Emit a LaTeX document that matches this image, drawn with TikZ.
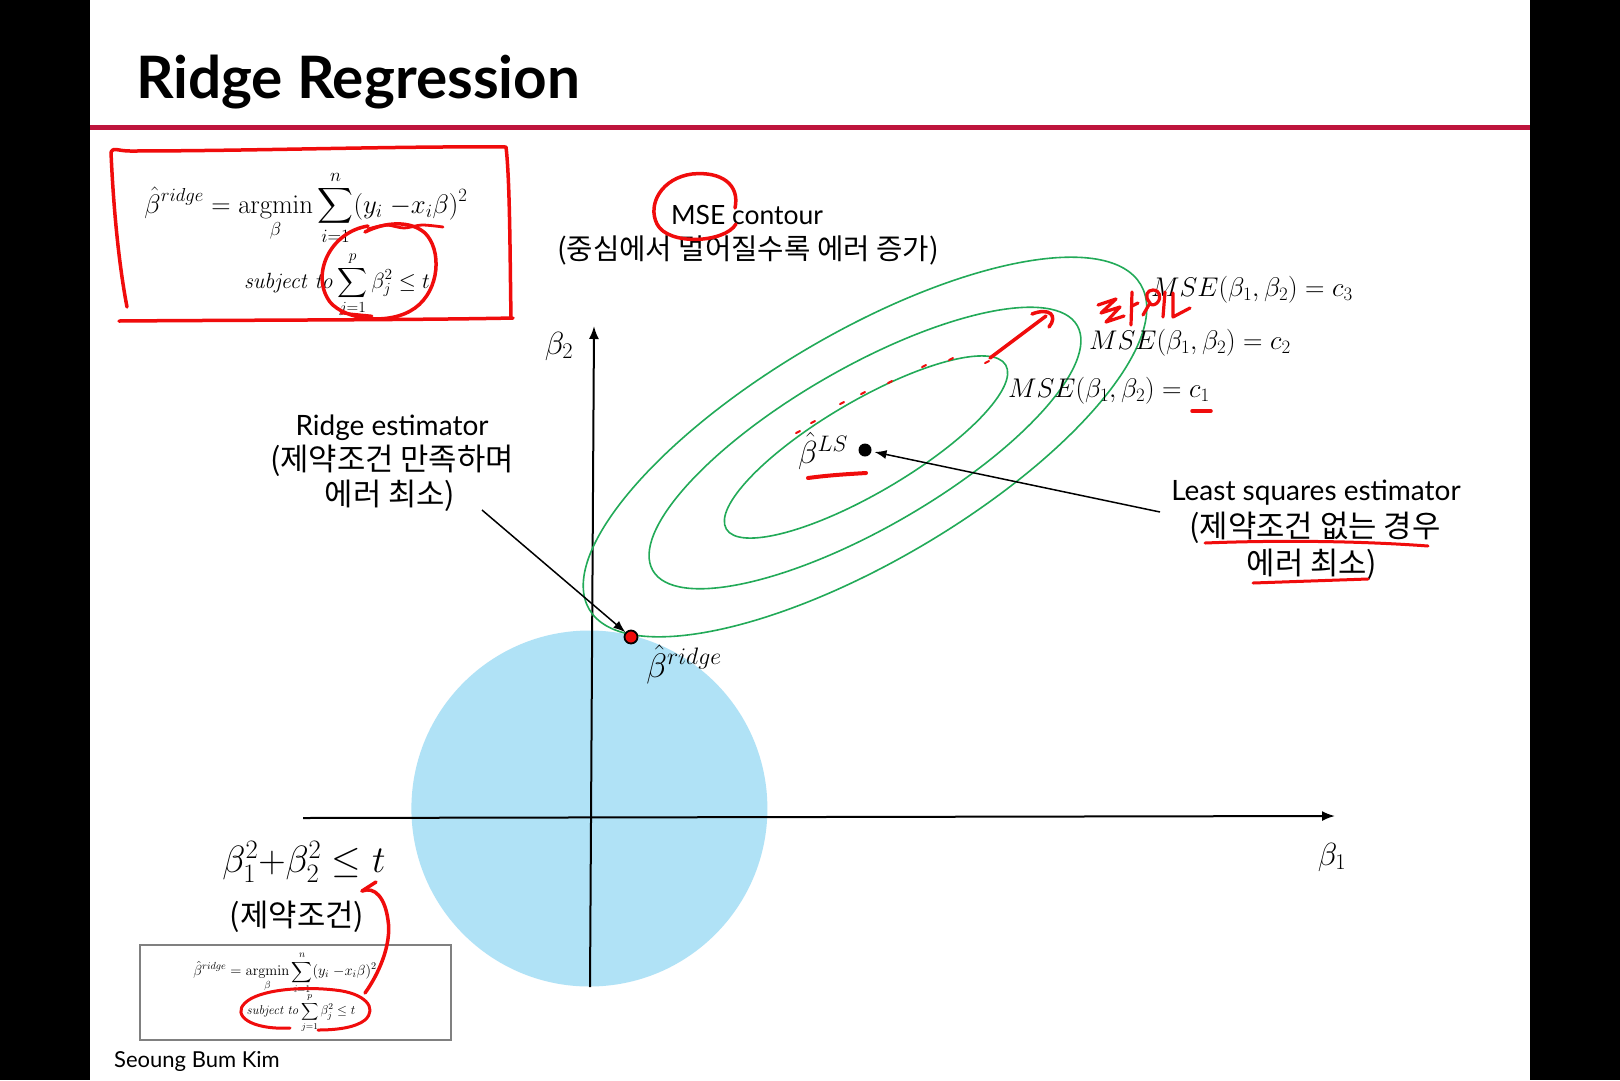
\RequirePackage{fix-cm}
\documentclass[tikz,border=0pt]{standalone}
\usepackage{amsmath}
\usepackage[no-math]{fontspec}
\setmainfont{Lato}
\newfontfamily\kr{Noto Sans CJK KR}
\usetikzlibrary{arrows.meta}
\definecolor{titlered}{RGB}{190,20,60}
\definecolor{penred}{RGB}{240,12,12}
\definecolor{ellgreen}{RGB}{34,170,88}
\definecolor{discblue}{RGB}{176,226,246}
\newcommand{\fsz}[1]{\fontsize{#1}{#1}\selectfont}
\newcommand{\ridgeobj}{\hat{\beta}^{ridge} = \operatorname*{argmin}_{\beta}\sum_{i=1}^{n}(y_i\;{-}x_i\beta)^2}
\newcommand{\ridgecon}{\mathit{subject\ to}\sum_{j=1}^{p}\beta_j^2 \le t}
\begin{document}
\begin{tikzpicture}[x=1pt,y=-1pt,
  hand/.style={draw=penred,line width=3.5pt,line cap=round,line join=round},
  ell/.style={draw=ellgreen,line width=1.6pt},
  axisline/.style={line width=2pt,-{Latex[length=13pt,width=10pt]}},
  pointer/.style={line width=1.5pt,-{Latex[length=12pt,width=9pt]}},
  lbl/.style={anchor=base,inner sep=0pt},
  txt/.style={lbl,font=\fsz{28}},
  krtxt/.style={lbl,font=\kr\fsz{30.8}},
]
\useasboundingbox (0,0) rectangle (1620,1080);
\fill[black] (0,0) rectangle (1620,1080);
\fill[white] (90,0) rectangle (1530,1080);

% title
\node[anchor=base west,inner sep=0pt,font=\bfseries\fsz{58.5}] (title) at (136,98) {Ridge Regression};
\draw[titlered,line width=5pt] (90,127) -- (1530,127);

% constraint disc
\fill[discblue] (589.4,808.5) circle [radius=178pt];

% axes
\coordinate (xl) at (303,818);
\coordinate (xr) at (1335,816);
\coordinate (yb) at (590,987);
\coordinate (yt) at (594,326);
\draw[axisline] (xl) -- (xr);
\draw[axisline] (yb) -- (yt);
\node[inner sep=0pt,font=\fsz{32}] (b1) at (1332,857) {$\beta_1$};
\node[inner sep=0pt,font=\fsz{32}] (b2) at (559,346) {$\beta_2$};

% MSE contours
\draw[ell, rotate around={30.5:(865,447)}] (865,447) ellipse [x radius=320pt, y radius=114pt];
\draw[ell, rotate around={30:(865,448)}] (865,448) ellipse [x radius=245pt, y radius=80pt];
\draw[ell, rotate around={30.4:(866,447)}] (866,447) ellipse [x radius=162pt, y radius=46pt];

% points
\node[circle,fill=penred,draw=black,line width=1.8pt,minimum size=13pt,inner sep=0pt] (rdot) at (631,637) {};
\node[circle,fill=black,minimum size=13pt,inner sep=0pt] (lsdot) at (865,450) {};
\node[inner sep=0pt,font=\fsz{34}] (rlab) at (684,664) {$\hat{\beta}^{ridge}$};
\node[inner sep=0pt,font=\fsz{32}] (lslab) at (823,451) {$\hat{\beta}^{LS}$};

% MSE labels
\node[anchor=base west,inner sep=0pt,font=\fsz{27}] (c3) at (1151,296) {$MSE(\beta_1,\beta_2) = c_3$};
\node[anchor=base west,inner sep=0pt,font=\fsz{27}] (c2) at (1089,349) {$MSE(\beta_1,\beta_2) = c_2$};
\node[anchor=base west,inner sep=0pt,font=\fsz{27}] (c1) at (1008,397) {$MSE(\beta_1,\beta_2) = c_1$};

% text blocks
\node[lbl,font=\fsz{26.5}] (mse1) at (747,224) {MSE contour};
\node[lbl,font=\kr\fsz{28.7}] (mse2) at (748,259) {(중심에서 멀어질수록 에러 증가)};

\node[txt] (ridge1) at (392,435) {Ridge estimator};
\node[krtxt] (ridge2) at (392,470) {(제약조건 만족하며};
\node[krtxt] (ridge3) at (390,505) {에러 최소)};

\node[txt] (ls1) at (1316,500) {Least squares estimator};
\node[krtxt] (ls2) at (1315,537) {(제약조건 없는 경우};
\node[krtxt] (ls3) at (1312,574) {에러 최소)};

\coordinate (ra) at (482,510);
\coordinate (la) at (1160,512);
\draw[pointer] (ra) -- (rdot);
\draw[pointer,shorten >=3pt] (la) -- (lsdot);

% constraint text
\node[inner sep=0pt,font=\fsz{38}] (cons) at (304,862) {$\beta_1^2{+}\beta_2^2 \le t$};
\node[lbl,font=\kr\fsz{30.8}] (consk) at (297,926) {(제약조건)};

% top formula box
\node[inner sep=0pt,font=\fsz{26.8}] (fa) at (306,208) {$\displaystyle\ridgeobj$};
\node[inner sep=0pt,font=\fsz{22}] (fb) at (337,285) {$\displaystyle\ridgecon$};

% small formula box
\node[draw=gray,line width=1.5pt,minimum width=311pt,minimum height=95pt,inner sep=0pt] (sbox) at (295.7,992.5) {};
\node[inner sep=0pt,font=\fsz{14.6}] (sa) at (285,973) {$\displaystyle\ridgeobj$};
\node[inner sep=0pt,font=\fsz{12.8}] (sb) at (301,1013) {$\displaystyle\ridgecon$};

\node[anchor=base west,inner sep=0pt,font=\fsz{22}] (author) at (114,1067) {Seoung Bum Kim};

% ---- red pen annotations ----
% box around formula
\draw[hand] (111,152) .. controls (113,200) and (118,260) .. (127,307);
\draw[hand] (111,152) .. controls (113,147) and (118,151) .. (130,151) .. controls (250,151) and (400,146) .. (506,147) .. controls (510,180) and (510,260) .. (511,318);
\draw[hand] (119,321) .. controls (250,320) and (420,320) .. (513,318);
% circle around constraint sum
\draw[hand] (368,226) .. controls (330,232) and (310,275) .. (330,302) .. controls (345,320) and (390,326) .. (415,308) .. controls (440,290) and (442,250) .. (425,233) .. controls (410,220) and (385,222) .. (365,232);
\draw[hand,line width=2.8pt] plot[smooth] coordinates {(368,229) (386,225) (404,228) (422,225) (443,227)};
\draw[hand,line width=2.8pt] (341,313) -- (372,316);
% circle around MSE
\draw[hand] (736,224) .. controls (725,243) and (668,246) .. (657,224) .. controls (647,204) and (662,178) .. (692,174) .. controls (722,171) and (740,185) .. (735,208);
% arrow between contours
\draw[hand] (990,358) -- (1046,316);
\draw[hand] (1032,314) .. controls (1050,307) and (1058,316) .. (1049,327);
% scribble
\draw[hand,line width=3.2pt] (1098,305) -- (1116,299) -- (1101,313) -- (1120,307) -- (1106,322) -- (1124,316);
\draw[hand,line width=3.2pt] (1132,292) -- (1131,325);
\draw[hand,line width=3.2pt] (1132,306) -- (1138,303);
\draw[hand,line width=3.2pt] (1143,315) -- (1150,303) .. controls (1144,296) and (1147,290) .. (1153,290) .. controls (1160,290) and (1162,298) .. (1157,303) .. controls (1154,306) and (1150,305) .. (1150,303);
\draw[hand,line width=3.2pt] (1165,292) -- (1163,317);
\draw[hand,line width=3.2pt] (1173,293) -- (1173,317) -- (1190,308);
% ticks along inner contour
\foreach \p in {(798,432),(813,422),(842,403),(863,393),(890,382),(924,366),(951,359),(987,362)}
  \draw[hand,line width=2pt] \p ++(-2,1) -- ++(4,-2);
% underlines
\draw[hand,line width=4pt] (808,478) .. controls (830,475) and (850,474) .. (866,473);
\draw[hand] (1192,411) -- (1211,411);
\draw[hand,line width=3pt] (1205,543) .. controls (1280,540) and (1360,541) .. (1428,546);
\draw[hand,line width=3pt] (1253,583) -- (1368,579);
% curved arrow at bottom
\draw[hand] (365,993) .. controls (378,975) and (392,945) .. (388,920) .. controls (385,898) and (375,886) .. (362,891);
\draw[hand] (362,891) -- (376,882);
% ellipse in small box
\draw[hand,line width=3pt] (290,1028) .. controls (250,1030) and (232,1015) .. (245,1003) .. controls (258,990) and (300,986) .. (335,990) .. controls (365,993) and (378,1008) .. (365,1020) .. controls (355,1028) and (335,1030) .. (318,1030);
\end{tikzpicture}
\end{document}
